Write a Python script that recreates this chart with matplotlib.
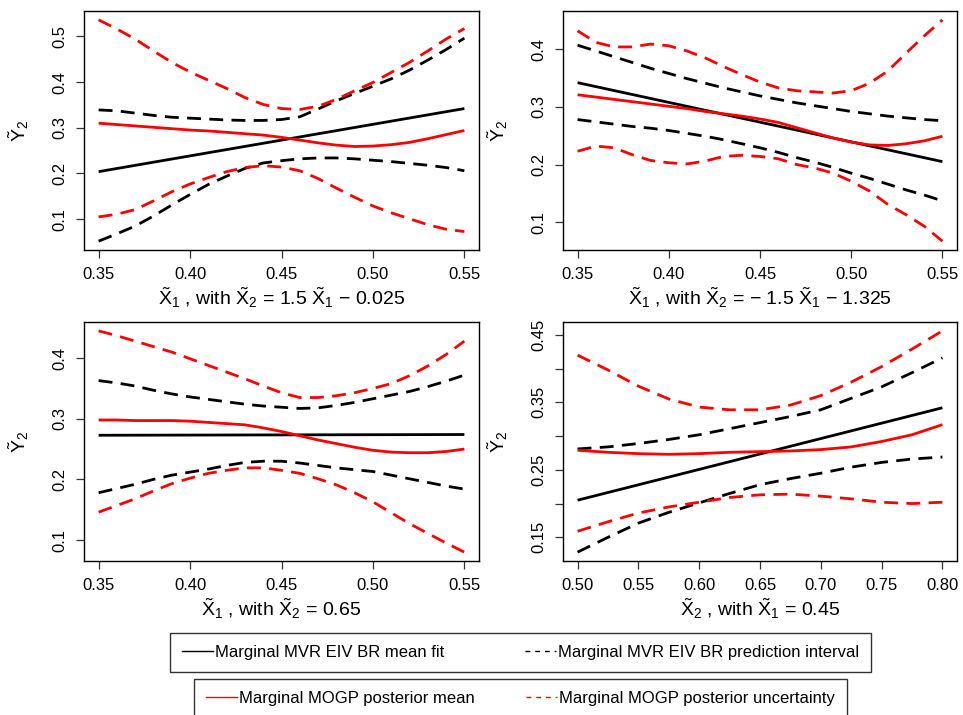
import numpy as np
import matplotlib
matplotlib.use("Agg")
import matplotlib.pyplot as plt
from matplotlib.lines import Line2D

plt.rcParams["font.family"] = ["Liberation Sans", "DejaVu Sans"]
plt.rcParams["mathtext.fontset"] = "custom"
plt.rcParams["mathtext.rm"] = "Liberation Sans"
plt.rcParams["mathtext.it"] = "Liberation Sans"
plt.rcParams["mathtext.bf"] = "Liberation Sans:bold"

# ---- panel 1: along X2 = 1.5 X1 - 0.025 ----
p1_x = np.round(np.arange(0.35, 0.5501, 0.01), 3)
p1_fit_x = [0.35, 0.55]
p1_fit = [0.204, 0.342]
p1_pi_hi = [0.339, 0.337, 0.332, 0.327, 0.323, 0.321, 0.319, 0.317, 0.316, 0.316, 0.318,
            0.324, 0.341, 0.359, 0.375, 0.391, 0.407, 0.426, 0.448, 0.471, 0.496]
p1_pi_lo = [0.052, 0.068, 0.085, 0.107, 0.131, 0.154, 0.176, 0.194, 0.211, 0.223, 0.228,
            0.232, 0.234, 0.234, 0.232, 0.229, 0.226, 0.222, 0.218, 0.213, 0.206]
p1_gp = [0.310, 0.307, 0.304, 0.301, 0.298, 0.295, 0.293, 0.290, 0.287, 0.284, 0.279,
         0.273, 0.267, 0.262, 0.259, 0.260, 0.263, 0.268, 0.276, 0.285, 0.294]
p1_gp_hi = [0.536, 0.516, 0.494, 0.468, 0.443, 0.422, 0.404, 0.386, 0.366, 0.351, 0.342,
            0.340, 0.347, 0.362, 0.381, 0.399, 0.421, 0.443, 0.468, 0.494, 0.517]
p1_gp_lo = [0.105, 0.111, 0.121, 0.140, 0.160, 0.177, 0.191, 0.204, 0.213, 0.217, 0.214,
            0.206, 0.189, 0.168, 0.148, 0.129, 0.114, 0.101, 0.088, 0.078, 0.073]

# ---- panel 2: along X2 = -1.5 X1 - 1.325 ----
p2_x = np.round(np.arange(0.35, 0.5501, 0.01), 3)
p2_fit_x = [0.35, 0.55]
p2_fit = [0.342, 0.205]
p2_pi_hi = [0.407, 0.397, 0.387, 0.377, 0.367, 0.358, 0.349, 0.341, 0.333, 0.326, 0.319,
            0.313, 0.307, 0.302, 0.297, 0.292, 0.288, 0.284, 0.281, 0.278, 0.276]
p2_pi_lo = [0.278, 0.274, 0.270, 0.266, 0.263, 0.259, 0.254, 0.249, 0.243, 0.236, 0.229,
            0.221, 0.212, 0.204, 0.195, 0.185, 0.176, 0.166, 0.156, 0.147, 0.137]
p2_gp = [0.321, 0.317, 0.313, 0.309, 0.305, 0.301, 0.297, 0.292, 0.288, 0.284, 0.279,
         0.273, 0.264, 0.255, 0.246, 0.239, 0.234, 0.233, 0.236, 0.241, 0.249]
p2_gp_hi = [0.432, 0.412, 0.404, 0.404, 0.409, 0.406, 0.397, 0.385, 0.370, 0.356, 0.343,
            0.333, 0.328, 0.326, 0.324, 0.328, 0.341, 0.362, 0.393, 0.423, 0.451]
p2_gp_lo = [0.223, 0.232, 0.229, 0.217, 0.207, 0.203, 0.201, 0.206, 0.214, 0.216, 0.214,
            0.210, 0.200, 0.194, 0.185, 0.171, 0.154, 0.131, 0.113, 0.093, 0.067]

# ---- panel 3: X2 fixed at 0.65 ----
p3_x = np.round(np.arange(0.35, 0.5501, 0.01), 3)
p3_fit_x = [0.35, 0.55]
p3_fit = [0.2728, 0.2740]
p3_pi_hi = [0.363, 0.359, 0.354, 0.347, 0.341, 0.336, 0.332, 0.328, 0.324, 0.321, 0.319,
            0.317, 0.318, 0.322, 0.327, 0.333, 0.339, 0.345, 0.353, 0.362, 0.372]
p3_pi_lo = [0.178, 0.185, 0.192, 0.200, 0.207, 0.212, 0.217, 0.223, 0.228, 0.230, 0.230,
            0.227, 0.223, 0.219, 0.216, 0.213, 0.207, 0.201, 0.195, 0.189, 0.184]
p3_gp = [0.298, 0.298, 0.297, 0.297, 0.297, 0.296, 0.294, 0.292, 0.290, 0.285, 0.279,
         0.272, 0.265, 0.259, 0.253, 0.248, 0.245, 0.244, 0.244, 0.246, 0.250]
p3_gp_hi = [0.445, 0.437, 0.428, 0.419, 0.410, 0.399, 0.388, 0.377, 0.366, 0.354, 0.343,
            0.335, 0.335, 0.338, 0.343, 0.350, 0.358, 0.371, 0.387, 0.406, 0.428]
p3_gp_lo = [0.146, 0.157, 0.168, 0.181, 0.193, 0.202, 0.210, 0.215, 0.219, 0.219, 0.215,
            0.210, 0.201, 0.191, 0.178, 0.163, 0.145, 0.127, 0.111, 0.095, 0.080]

# ---- panel 4: X1 fixed at 0.45 ----
p4_x = np.round(np.arange(0.50, 0.8001, 0.025), 3)
p4_fit_x = [0.50, 0.80]
p4_fit = [0.205, 0.342]
p4_pi_hi = [0.281, 0.284, 0.289, 0.295, 0.302, 0.311, 0.320, 0.329, 0.339, 0.356, 0.373,
            0.394, 0.416]
p4_pi_lo = [0.128, 0.150, 0.171, 0.187, 0.201, 0.215, 0.228, 0.237, 0.245, 0.254, 0.261,
            0.266, 0.269]
p4_gp = [0.279, 0.276, 0.274, 0.273, 0.274, 0.276, 0.277, 0.278, 0.280, 0.284, 0.292,
         0.302, 0.317]
p4_gp_hi = [0.420, 0.398, 0.374, 0.355, 0.343, 0.339, 0.339, 0.346, 0.360, 0.380, 0.403,
            0.429, 0.456]
p4_gp_lo = [0.159, 0.173, 0.186, 0.195, 0.202, 0.209, 0.213, 0.214, 0.211, 0.207, 0.202,
            0.200, 0.202]

p13_xticks = [0.35, 0.40, 0.45, 0.50, 0.55]
p4_xticks = [0.50, 0.55, 0.60, 0.65, 0.70, 0.75, 0.80]
p1_yticks = [0.1, 0.2, 0.3, 0.4, 0.5]
p23_yticks = [0.1, 0.2, 0.3, 0.4]
p4_yticks = [0.15, 0.20, 0.25, 0.30, 0.35, 0.40, 0.45]
p4_ylabels = ["0.15", "", "0.25", "", "0.35", "", "0.45"]

xlabels = [
    r"$\tilde{X}_1$ , with $\tilde{X}_2$ = 1.5 $\tilde{X}_1$ $-$ 0.025",
    r"$\tilde{X}_1$ , with $\tilde{X}_2$ = $-$ 1.5 $\tilde{X}_1$ $-$ 1.325",
    r"$\tilde{X}_1$ , with $\tilde{X}_2$ = 0.65",
    r"$\tilde{X}_2$ , with $\tilde{X}_1$ = 0.45",
]
ylabel = r"$\tilde{Y}_2$"

legend_labels = [
    "Marginal MVR EIV BR mean fit",
    "Marginal MVR EIV BR prediction interval",
    "Marginal MOGP posterior mean",
    "Marginal MOGP posterior uncertainty",
]

W, H = 963, 715
fig = plt.figure(figsize=(W / 100, H / 100), dpi=100)

# axes boxes in pixel coordinates (left, top, right, bottom)
boxes = [(84, 11, 479, 250), (563, 11, 957, 250),
         (84, 322, 479, 561), (563, 322, 957, 561)]

panels = [
    (p1_x, p1_fit_x, p1_fit, p1_pi_hi, p1_pi_lo, p1_gp, p1_gp_hi, p1_gp_lo),
    (p2_x, p2_fit_x, p2_fit, p2_pi_hi, p2_pi_lo, p2_gp, p2_gp_hi, p2_gp_lo),
    (p3_x, p3_fit_x, p3_fit, p3_pi_hi, p3_pi_lo, p3_gp, p3_gp_hi, p3_gp_lo),
    (p4_x, p4_fit_x, p4_fit, p4_pi_hi, p4_pi_lo, p4_gp, p4_gp_hi, p4_gp_lo),
]
xticks_list = [p13_xticks, p13_xticks, p13_xticks, p4_xticks]
yticks_list = [p1_yticks, p23_yticks, p23_yticks, p4_yticks]

LW = 2.0
DASH = (5, 3)
RED = "#ff0000"

for i, (box, data) in enumerate(zip(boxes, panels)):
    l, t, r, b = box
    ax = fig.add_axes([l / W, 1 - b / H, (r - l) / W, (b - t) / H])
    x, fx, fy, hi, lo, gp, ghi, glo = data
    ax.plot(fx, fy, color="black", lw=LW, solid_capstyle="butt")
    ax.plot(x, hi, color="black", lw=LW, dashes=DASH)
    ax.plot(x, lo, color="black", lw=LW, dashes=DASH)
    ax.plot(x, gp, color=RED, lw=LW, solid_capstyle="butt")
    ax.plot(x, ghi, color=RED, lw=LW, dashes=DASH)
    ax.plot(x, glo, color=RED, lw=LW, dashes=DASH)
    ax.margins(x=0.04, y=0.04)

    ax.set_xticks(xticks_list[i])
    ax.set_xticklabels([f"{v:.2f}" for v in xticks_list[i]])
    ax.set_yticks(yticks_list[i])
    if i == 3:
        ax.set_yticklabels(p4_ylabels)
    else:
        ax.set_yticklabels([f"{v:.1f}" for v in yticks_list[i]])
    ax.tick_params(direction="out", length=6, width=0.9, labelsize=12, pad=6,
                   color="#333333")
    for lab in ax.get_yticklabels():
        lab.set_rotation(90)
        lab.set_va("center")
    for sp in ax.spines.values():
        sp.set_linewidth(1.0)

    ax.set_xlabel(xlabels[i], fontsize=14)
    ax.xaxis.set_label_coords(0.5, -0.15)
    ax.set_ylabel(ylabel, fontsize=14)
    ax.yaxis.set_label_coords(-0.135, 0.5)

# legend proxies with thin lines
h_fit = Line2D([], [], color="black", lw=1.0)
h_pi = Line2D([], [], color="black", lw=1.0, dashes=(3.5, 3.5))
h_gp = Line2D([], [], color=RED, lw=1.0)
h_gpu = Line2D([], [], color=RED, lw=1.0, dashes=(3.5, 3.5))

leg_kw = dict(ncol=2, mode="expand", fontsize=12, frameon=True, fancybox=False,
              edgecolor="black", handlelength=1.85, handletextpad=0.12,
              borderaxespad=0.0, borderpad=0.72, loc="upper left")
leg1 = fig.legend([h_fit, h_pi], legend_labels[:2],
                  bbox_to_anchor=(170 / W, 1 - 673 / H, 701 / W, 40 / H), **leg_kw)
leg1.get_frame().set_linewidth(1.0)
leg2 = fig.legend([h_gp, h_gpu], legend_labels[2:],
                  bbox_to_anchor=(194 / W, 1 - 719 / H, 653 / W, 40 / H), **leg_kw)
leg2.get_frame().set_linewidth(1.0)

fig.savefig("out.png", dpi=100)
